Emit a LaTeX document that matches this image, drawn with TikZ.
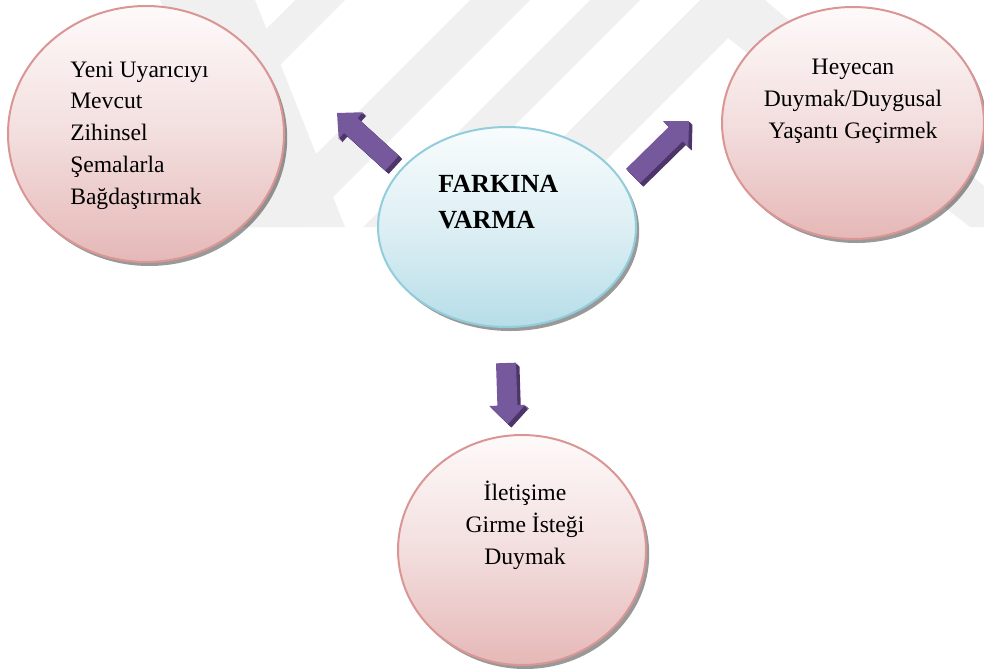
\documentclass[tikz,border=0pt]{standalone}
\usepackage{fontspec}
\setmainfont{Liberation Serif}
\usetikzlibrary{shapes.geometric,shadows,calc}

\definecolor{wm}{HTML}{F0F0F0}
\definecolor{pinkline}{HTML}{D99694}
\definecolor{pinktop}{HTML}{FEFAFA}
\definecolor{pinkmid}{HTML}{F3DEDE}
\definecolor{pinkbot}{HTML}{E5B8B7}
\definecolor{blueline}{HTML}{92CDDC}
\definecolor{bluetop}{HTML}{F8FCFD}
\definecolor{bluemid}{HTML}{DDEFF4}
\definecolor{bluebot}{HTML}{B6DDE8}
\definecolor{arrowface}{HTML}{76599D}
\definecolor{arrowside}{HTML}{4B3569}

\tikzset{
  bubble/.style={ellipse, inner sep=0pt, line width=1.5pt,
    drop shadow={shadow xshift=2.4pt, shadow yshift=-3pt, fill=black, opacity=0.4}},
  pinkbubble/.style={bubble, draw=pinkline, top color=pinktop, bottom color=pinkbot, middle color=pinkmid},
  bluebubble/.style={bubble, draw=blueline, top color=bluetop, bottom color=bluebot, middle color=bluemid},
  bodytext/.style={inner sep=0pt, font=\fontsize{17.7}{23.8}\selectfont},
  titletext/.style={inner sep=0pt, font=\fontsize{19.6}{26.3}\selectfont\bfseries},
}

% outline of a block arrow from tail #2 to tip #3, filled with options #1
\newcommand\arrowpath[3]{%
  \fill[#1] ($(#2)!7.5pt!90:(#3)$) -- ($(#2h)!7.5pt!90:(#3)$) -- ($(#2h)!13.5pt!90:(#3)$)
    -- (#3) -- ($(#2h)!13.5pt!-90:(#3)$) -- ($(#2h)!7.5pt!-90:(#3)$)
    -- ($(#2)!7.5pt!-90:(#3)$) -- cycle;}
% block arrow with a dark extruded side
\newcommand\blockarrow[2]{%
  \coordinate (#1h) at ($(#2)!14pt!(#1)$);
  \foreach \k in {2.6,2.0,1.4,0.8}{%
    \arrowpath{arrowside, transform canvas={xshift=\k pt, yshift=-\k pt}}{#1}{#2}}
  \arrowpath{arrowface}{#1}{#2}}

\begin{document}
\begin{tikzpicture}[x=0.75pt, y=-0.75pt]
\useasboundingbox (0,0) rectangle (984,668);

% faint background stripes
\begin{scope}
  \clip (0,0) rectangle (984,668);
  \fill[wm] (160,0) -- (255,0) -- (345,227) -- (250,227) -- cycle;
  \fill[wm] (295,0) -- (345,0) -- (118,227) -- (68,227) -- cycle;
  \fill[wm] (470,0) -- (530,0) -- (303,227) -- (243,227) -- cycle;
  \fill[wm] (590,0) -- (640,0) -- (413,227) -- (363,227) -- cycle;
  \fill[wm] (700,0) -- (765,0) -- (984,186) -- (984,227) -- (970,227)
    -- (728,38) -- (539,227) -- (473,227) -- cycle;
\end{scope}

% bubbles
\node[pinkbubble, minimum width=207pt, minimum height=192pt] (aks) at (146,134) {};
\node[bluebubble, minimum width=193.5pt, minimum height=150pt] (fark) at (507,227) {};
\node[pinkbubble, minimum width=196.5pt, minimum height=174pt] (hey) at (853,123) {};
\node[pinkbubble, minimum width=186pt, minimum height=172.5pt] (ilet) at (522,550) {};

% texts (anchored on the baseline of their last line)
\node[bodytext, align=left, anchor=base west] (aksT) at (70,204)
  {Yeni Uyarıcıyı\\Mevcut\\Zihinsel\\Şemalarla\\Bağdaştırmak};
\node[titletext, align=left, anchor=base west] (farkT) at (438,228) {FARKINA\\VARMA};
\node[bodytext, align=center, anchor=base] (heyT) at (853,138)
  {Heyecan\\Duymak/Duygusal\\Yaşantı Geçirmek};
\node[bodytext, align=center, anchor=base] (iletT) at (525,564)
  {İletişime\\Girme İsteği\\Duymak};

% arrows
\coordinate (lt) at (392,163); \coordinate (lp) at (337,113);
\coordinate (rt) at (633,176); \coordinate (rp) at (689,121);
\coordinate (dt) at (506,363); \coordinate (dp) at (508,424);
\blockarrow{lt}{lp}
\blockarrow{rt}{rp}
\blockarrow{dt}{dp}
\end{tikzpicture}
\end{document}
